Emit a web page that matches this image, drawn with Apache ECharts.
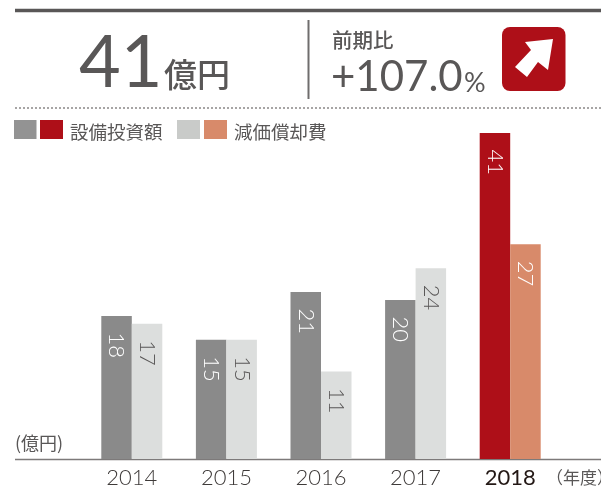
<!DOCTYPE html>
<html><head><meta charset="utf-8">
<script src="https://cdn.jsdelivr.net/npm/echarts@6/dist/echarts.min.js"></script>
<style>html,body{margin:0;padding:0;background:#fff}#c{width:601px;height:489px}</style></head>
<body><div id="c"></div>
<script>
const years = ['2014','2015','2016','2017','2018'];
const capex = [18,15,21,20,41];
const depreciation = [17,15,11,24,27];
const capexColors = ['#8a8a8a','#8a8a8a','#8a8a8a','#8a8a8a','#ae0f18'];
const depColors = ['#dcdedd','#dcdedd','#dcdedd','#dcdedd','#d88a6a'];
const cjk = '"Noto Sans CJK JP","Noto Sans",sans-serif';
const num = 'Lato,"Noto Sans",sans-serif';
const txt = (x,y,text,size,font,fill,extra) => ({type:'text',x,y,style:Object.assign({text,fontSize:size,fontFamily:font,fill:fill||'#595757',textVerticalAlign:'bottom'},extra||{})});
const line = (x1,y1,x2,y2,stroke,w,dash) => ({type:'line',shape:{x1,y1,x2,y2},style:{stroke,lineWidth:w,lineDash:dash||null}});
const rect = (x,y,w,h,fill,r) => ({type:'rect',shape:{x,y,width:w,height:h,r:r||0},style:{fill}});
const label = {show:true,position:'insideTop',distance:15,offset:[1.5,0],rotate:-90,align:'left',verticalAlign:'middle',fontFamily:num,fontWeight:300,fontSize:22};
const chart = echarts.init(document.getElementById('c'),null,{renderer:'canvas'});
chart.setOption({
  animation:false,
  grid:{left:84.5,right:43.5,top:133,bottom:30,outerBoundsMode:'none'},
  xAxis:{type:'category',data:years,axisTick:{show:false},axisLine:{show:false},
    axisLabel:{interval:0,margin:8,fontFamily:num,fontSize:22,fontWeight:300,color:'#3e3a39',
      formatter:v=>v==='2018'?'{b|'+v+'}':v,
      rich:{b:{fontFamily:num,fontSize:22,fontWeight:400,color:'#231815'}}}},
  yAxis:{type:'value',min:0,max:41,show:false,splitLine:{show:false}},
  series:[
    {type:'bar',name:'設備投資額',barWidth:30.5,barGap:0,
     data:capex.map((v,i)=>({value:v,itemStyle:{color:capexColors[i]}})),
     label:Object.assign({color:'#fff'},label)},
    {type:'bar',name:'減価償却費',barWidth:30.5,barGap:0,
     data:depreciation.map((v,i)=>({value:v,itemStyle:{color:depColors[i]},label:{color:i===4?'#fff':'#595757'}})),
     label:Object.assign({color:'#595757'},label)}
  ],
  graphic:[
    line(15,10.5,601,10.5,'#595757',3.5),
    line(308.5,20,308.5,99,'#6f6d6d',2),
    line(15,108,601,108,'#8a8888',1.5,[2,2]),
    line(15,459.5,601,459.5,'#7d7a7a',1.5),
    txt(79,100,'41',72,num),
    txt(164,91,'億円',33,cjk,'#595757',{fontWeight:500}),
    txt(332,50,'前期比',20.5,cjk,'#595757',{fontWeight:500}),
    txt(331,98,'+107.0',42,num),
    txt(464,97,'%',27,num),
    rect(502,27,63.5,64,'#ae0f18',8),
    {type:'polygon',shape:{points:[[553,39],[548,70],[538,62],[527,77],[515,67],[531,50],[525,42]]},style:{fill:'#fff'}},
    rect(14,120,22.5,19,'#939393'),
    rect(40,120,23,19,'#ae0f18'),
    txt(70,141,'設備投資額',18.5,cjk),
    rect(177,120,23,19,'#c9cbc9'),
    rect(204,120,23,19,'#d88a6a'),
    txt(234,141,'減価償却費',18.5,cjk),
    txt(15,452,'(億円)',18,cjk),
    txt(546,486,'（年度）',17,cjk)
  ]
});
</script></body></html>
